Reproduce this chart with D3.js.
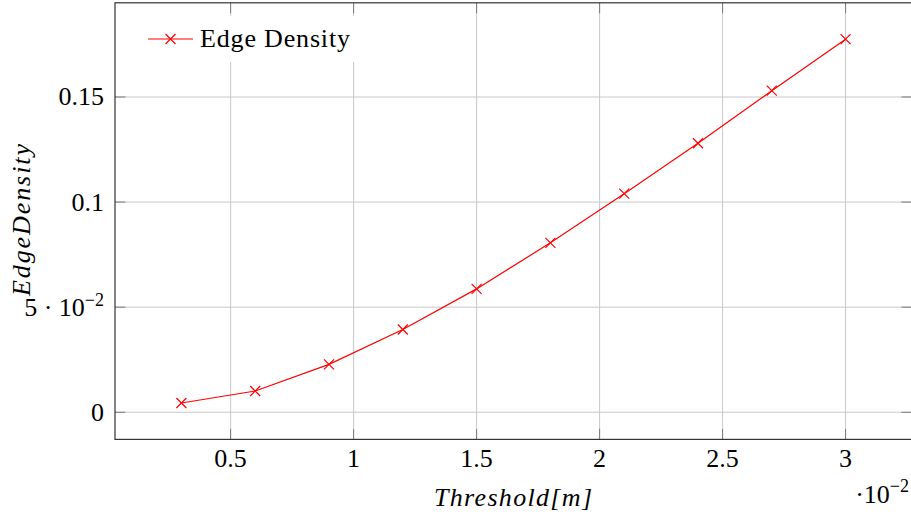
<!DOCTYPE html>
<html>
<head>
<meta charset="utf-8">
<script src="https://cdn.jsdelivr.net/npm/d3@7"></script>
<style>
  body { margin: 0; background: #fff; }
  svg { display: block; }
</style>
</head>
<body>
<div id="chart"></div>
<script>
// data (x values in units of 10^-2 m)
const thresholds = [0.3, 0.6, 0.9, 1.2, 1.5, 1.8, 2.1, 2.4, 2.7, 3.0];
const edgeDensity = [0.0044, 0.0101, 0.0228, 0.0394, 0.0587, 0.0806, 0.1040, 0.1280, 0.1530, 0.1775];
const xTicks = [0.5, 1, 1.5, 2, 2.5, 3];
const yTicks = [0, 0.05, 0.1, 0.15];
const yTickLabels = ["0", "5e-2", "0.1", "0.15"];
const seriesName = "Edge Density";

const width = 911, height = 519;
const plotLeft = 115, plotRight = 912, plotTop = 2.8, plotBottom = 439.4;
const serif = "'Liberation Serif', 'DejaVu Serif', serif";
const fs = 26;

const svg = d3.select("#chart").append("svg")
    .attr("width", width)
    .attr("height", height)
    .attr("font-family", serif);

// pgfplots style: enlarge limits by 10%
const xExt = d3.extent(thresholds), yExt = d3.extent(edgeDensity);
const xPad = (xExt[1] - xExt[0]) * 0.1, yPad = (yExt[1] - yExt[0]) * 0.1;

const x = d3.scaleLinear().domain([xExt[0] - xPad, xExt[1] + xPad]).range([plotLeft, plotRight]);
const y = d3.scaleLinear().domain([yExt[0] - yPad, yExt[1] + yPad]).range([plotBottom, plotTop]);

// grid
const grid = svg.append("g").attr("stroke", "#c8c8c8").attr("stroke-width", 1);
grid.selectAll("line.vx").data(xTicks).join("line")
    .attr("x1", d => x(d)).attr("x2", d => x(d))
    .attr("y1", plotTop).attr("y2", plotBottom);
grid.selectAll("line.hy").data(yTicks).join("line")
    .attr("y1", d => y(d)).attr("y2", d => y(d))
    .attr("x1", plotLeft).attr("x2", plotRight);

// tick marks inside, on all sides
const tl = 10.5;
const ticks = svg.append("g").attr("stroke", "#7a7a7a").attr("stroke-width", 1);
xTicks.forEach(d => {
  ticks.append("line").attr("x1", x(d)).attr("x2", x(d)).attr("y1", plotBottom).attr("y2", plotBottom - tl);
  ticks.append("line").attr("x1", x(d)).attr("x2", x(d)).attr("y1", plotTop).attr("y2", plotTop + tl);
});
yTicks.forEach(d => {
  ticks.append("line").attr("y1", y(d)).attr("y2", y(d)).attr("x1", plotLeft).attr("x2", plotLeft + tl);
  ticks.append("line").attr("y1", y(d)).attr("y2", y(d)).attr("x1", plotRight).attr("x2", plotRight - tl);
});

// axis box
svg.append("rect")
    .attr("x", plotLeft).attr("y", plotTop)
    .attr("width", plotRight - plotLeft).attr("height", plotBottom - plotTop)
    .attr("fill", "none").attr("stroke", "#333").attr("stroke-width", 1.2);

// x tick labels
svg.append("g").selectAll("text").data(xTicks).join("text")
    .attr("x", d => x(d)).attr("y", 467)
    .attr("text-anchor", "middle")
    .attr("font-size", fs)
    .text(d => d);

// y tick labels
const yl = svg.append("g");
yTicks.forEach((d, i) => {
  const t = yl.append("text")
      .attr("x", 104).attr("y", y(d) + 8.5)
      .attr("text-anchor", "end")
      .attr("font-size", fs);
  const lab = yTickLabels[i];
  if (lab.includes("e")) {
    const [m, e] = lab.split("e");
    t.append("tspan").text(m + " \u00b7 10");
    t.append("tspan").attr("dy", -10).attr("font-size", 18).text(e.replace("-", "\u2212"));
  } else {
    t.text(lab);
  }
});

// x scale label
const sl = svg.append("text").attr("x", 909).attr("y", 503)
    .attr("text-anchor", "end").attr("font-size", fs);
sl.append("tspan").text("\u00b710");
sl.append("tspan").attr("dy", -11).attr("font-size", 18).text("\u22122");

// axis titles (math italic, spaced out like TeX)
svg.append("text")
    .attr("x", 513).attr("y", 506)
    .attr("text-anchor", "middle")
    .attr("font-size", fs).attr("font-style", "italic")
    .attr("textLength", 158).attr("lengthAdjust", "spacing")
    .text("Threshold[m]");

svg.append("text")
    .attr("transform", "translate(30,220) rotate(-90)")
    .attr("text-anchor", "middle")
    .attr("font-size", fs).attr("font-style", "italic")
    .attr("textLength", 152).attr("lengthAdjust", "spacing")
    .text("EdgeDensity");

// series line
const line = d3.line().x((d, i) => x(thresholds[i])).y(d => y(d));
svg.append("path")
    .datum(edgeDensity)
    .attr("d", line)
    .attr("fill", "none")
    .attr("stroke", "#ff0000")
    .attr("stroke-width", 1.2);

const mk = 5;
const crossPath = (cx, cy) => `M${cx - mk},${cy - mk}L${cx + mk},${cy + mk}M${cx - mk},${cy + mk}L${cx + mk},${cy - mk}`;
svg.append("g").selectAll("path").data(edgeDensity).join("path")
    .attr("d", (d, i) => crossPath(x(thresholds[i]), y(d)))
    .attr("stroke", "#ff0000")
    .attr("stroke-width", 1.2)
    .attr("fill", "none");

// legend
const lg = svg.append("g");
lg.append("rect").attr("x", 139).attr("y", 16).attr("width", 224).attr("height", 46).attr("fill", "#fff");
lg.append("line").attr("x1", 148).attr("x2", 193).attr("y1", 39).attr("y2", 39)
    .attr("stroke", "#ff0000").attr("stroke-width", 1.2);
lg.append("path").attr("d", crossPath(170.5, 39)).attr("stroke", "#ff0000").attr("stroke-width", 1.2);
lg.append("text").attr("x", 200).attr("y", 47).attr("font-size", fs)
    .attr("textLength", 150).attr("lengthAdjust", "spacing")
    .text(seriesName);
</script>
</body>
</html>
